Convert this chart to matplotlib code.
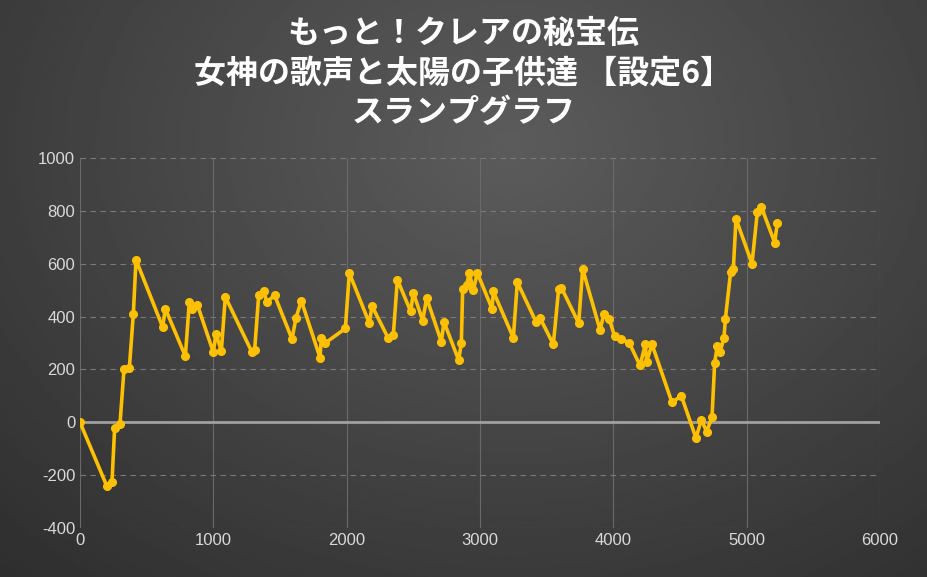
import numpy as np
import matplotlib.pyplot as plt

games = [0, 200, 240, 260, 300, 330, 370, 400, 420, 620, 640, 790, 820, 840, 880,
         1000, 1020, 1060, 1090, 1290, 1310, 1340, 1380, 1400, 1460, 1590, 1620, 1660,
         1800, 1810, 1840, 1990, 2020, 2170, 2190, 2310, 2350, 2380, 2480, 2500, 2570,
         2600, 2710, 2730, 2840, 2860, 2870, 2900, 2920, 2950, 2980, 3090, 3100, 3250,
         3280, 3420, 3450, 3550, 3590, 3610, 3740, 3770, 3900, 3930, 3970, 4010, 4060,
         4120, 4200, 4240, 4250, 4290, 4440, 4510, 4620, 4660, 4700, 4740, 4760, 4780,
         4800, 4830, 4840, 4880, 4900, 4920, 5040, 5080, 5110, 5210, 5230]
diff = [0, -240, -225, -20, -5, 200, 205, 410, 615, 360, 430, 250, 455, 430, 445,
        265, 335, 270, 475, 265, 275, 480, 495, 455, 480, 315, 395, 460,
        245, 320, 300, 355, 565, 375, 440, 320, 330, 540, 420, 490, 385,
        470, 305, 380, 235, 300, 505, 520, 565, 500, 565, 430, 495, 320,
        530, 380, 395, 295, 505, 510, 375, 580, 350, 410, 390, 325, 315,
        300, 215, 295, 230, 295, 75, 100, -60, 10, -35, 20, 225, 290,
        265, 320, 390, 570, 580, 770, 600, 795, 815, 680, 755]

title = "もっと！クレアの秘宝伝\n女神の歌声と太陽の子供達 【設定6】\nスランプグラフ"

plt.rcParams["font.family"] = ["Noto Sans CJK JP", "DejaVu Sans"]
plt.rcParams["axes.unicode_minus"] = False

fig = plt.figure(figsize=(9.27, 5.77), dpi=100)
bg = fig.add_axes([0, 0, 1, 1])
yy, xx = np.mgrid[0:1:300j, 0:1:300j]
r = np.sqrt((xx - 0.55) ** 2 + ((yy - 0.25) * 0.8) ** 2)
bg.imshow(0.36 - 0.22 * r, cmap="gray", vmin=0, vmax=1, aspect="auto", extent=[0, 1, 0, 1])
bg.axis("off")

ax = fig.add_axes([80 / 927, 49 / 577, 800 / 927, 370 / 577])
ax.patch.set_alpha(0)
ax.plot(games, diff, color="#FFC000", lw=2.6, marker="o", ms=5.5, zorder=3)
ax.set_xlim(0, 6000)
ax.set_ylim(-400, 1000)
ax.set_xticks(range(0, 6001, 1000))
ax.set_yticks(range(-400, 1001, 200))
ax.grid(axis="y", color="#7a7a7a", ls=(0, (5, 4)), lw=0.8)
ax.grid(axis="x", color="#6a6a6a", lw=0.8)
ax.axhline(0, color="#a0a0a0", lw=2, zorder=2)
for s in ax.spines.values():
    s.set_visible(False)
ax.tick_params(colors="#d9d9d9", labelsize=12, length=0)
for lab in ax.get_xticklabels() + ax.get_yticklabels():
    lab.set_fontfamily("Liberation Sans")

fig.text(0.5, 0.872, title, ha="center", va="center", color="white",
         fontsize=23, fontweight="bold", linespacing=1.3)

fig.savefig("out.png", dpi=100)
